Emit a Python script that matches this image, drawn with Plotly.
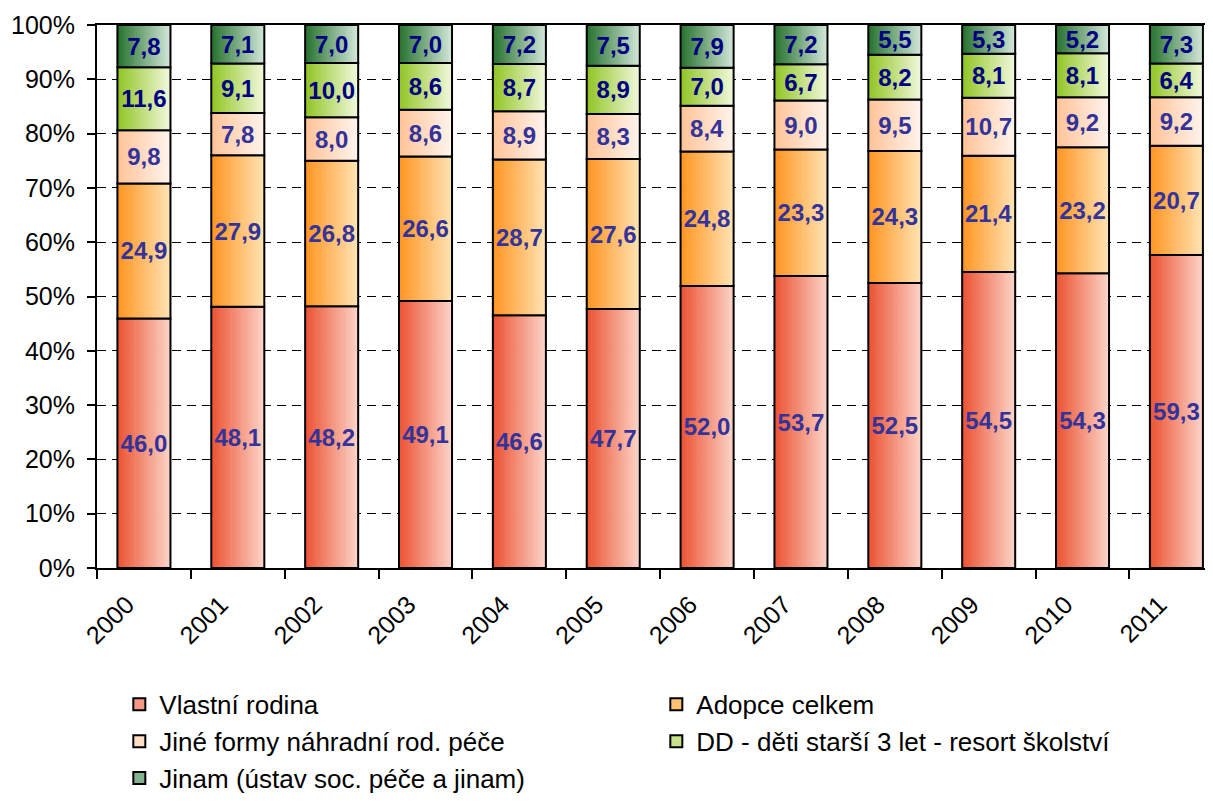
import plotly.graph_objects as go

years = ["2000", "2001", "2002", "2003", "2004", "2005", "2006", "2007", "2008", "2009", "2010", "2011"]
vlastni = [46.0, 48.1, 48.2, 49.1, 46.6, 47.7, 52.0, 53.7, 52.5, 54.5, 54.3, 59.3]
adopce = [24.9, 27.9, 26.8, 26.6, 28.7, 27.6, 24.8, 23.3, 24.3, 21.4, 23.2, 20.7]
jine = [9.8, 7.8, 8.0, 8.6, 8.9, 8.3, 8.4, 9.0, 9.5, 10.7, 9.2, 9.2]
dd = [11.6, 9.1, 10.0, 8.6, 8.7, 8.9, 7.0, 6.7, 8.2, 8.1, 8.1, 6.4]
jinam = [7.8, 7.1, 7.0, 7.0, 7.2, 7.5, 7.9, 7.2, 5.5, 5.3, 5.2, 7.3]

series = [
    ("Vlastní rodina", vlastni, (236, 84, 52), (252, 210, 198), "#333399"),
    ("Adopce celkem", adopce, (255, 150, 35), (255, 226, 178), "#333399"),
    ("Jiné formy náhradní rod. péče", jine, (255, 196, 152), (255, 243, 236), "#333399"),
    ("DD - děti starší 3 let - resort školství", dd, (146, 198, 38), (240, 247, 218), "#000080"),
    ("Jinam (ústav soc. péče a jinam)", jinam, (40, 115, 48), (208, 229, 215), "#000080"),
]

FONT = "Liberation Sans, Arial, sans-serif"
BAR_W = 0.565
N = 24

totals = [sum(s[1][i] for s in series) for i in range(len(years))]

fig = go.Figure()
base = [0.0] * len(years)
for name, vals, c0, c1, tcol in series:
    h = [v / t * 100 for v, t in zip(vals, totals)]
    for k in range(N):
        f = k / (N - 1)
        col = tuple(round(c0[j] + (c1[j] - c0[j]) * f) for j in range(3))
        fig.add_trace(go.Bar(
            x=years, y=h, base=base,
            width=BAR_W / N * 1.3, offset=-BAR_W / 2 + k * BAR_W / N,
            marker=dict(color="rgb(%d,%d,%d)" % col, line=dict(width=0)),
            showlegend=False, hoverinfo="skip",
        ))
    # outline + labels
    fig.add_trace(go.Bar(
        x=years, y=h, base=base, width=BAR_W, offset=-BAR_W / 2,
        marker=dict(color="rgba(0,0,0,0)", line=dict(color="black", width=2)),
        text=[("%.1f" % v).replace(".", ",") for v in vals],
        textposition="inside", insidetextanchor="middle", textangle=0,
        constraintext="none",
        textfont=dict(family=FONT, size=24, color=tcol, weight="bold"),
        showlegend=False, name=name,
    ))
    mid = tuple(round(c0[j] * 0.45 + c1[j] * 0.55) for j in range(3))
    fig.add_trace(go.Bar(
        x=[None], y=[None], name=name,
        marker=dict(color="rgb(%d,%d,%d)" % mid, line=dict(color="black", width=2)),
        showlegend=True,
    ))
    base = [b + hh for b, hh in zip(base, h)]

fig.update_layout(
    width=1205, height=797,
    barmode="overlay",
    paper_bgcolor="white", plot_bgcolor="white",
    margin=dict(l=89, r=0, t=17, b=237),
    font=dict(family=FONT, size=25, color="black"),
    legend=dict(
        orientation="h", x=0.02, y=-0.208, xanchor="left", yanchor="top",
        entrywidth=492, entrywidthmode="pixels",
        font=dict(family=FONT, size=26, color="black"),
        traceorder="normal",
    ),
    xaxis=dict(
        type="category", range=[-0.5, 11.39], automargin=False,
        tickson="boundaries", ticks="outside", ticklen=9, tickwidth=2, tickcolor="black",
        showline=True, linecolor="black", linewidth=2, mirror=True,
        tickangle=-45, tickfont=dict(family=FONT, size=25, color="black"),
        ticklabelshift=-17, ticklabelstandoff=10,
        showgrid=False, zeroline=False,
    ),
    yaxis=dict(
        range=[0, 100], tickvals=[0, 10, 20, 30, 40, 50, 60, 70, 80, 90, 100],
        ticktext=["0%", "10%", "20%", "30%", "40%", "50%", "60%", "70%", "80%", "90%", "100%"],
        automargin=False,
        ticks="outside", ticklen=8, tickwidth=2, tickcolor="black",
        ticklabelstandoff=7,
        showline=True, linecolor="black", linewidth=2,
        showgrid=True, gridcolor="black", gridwidth=1, griddash="9px,6px",
        tickfont=dict(family=FONT, size=25, color="black"),
        zeroline=False,
    ),
)

fig.write_html("out.html")
